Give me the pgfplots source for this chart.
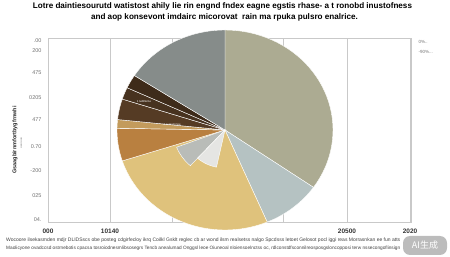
\documentclass[border=0pt]{standalone}
\usepackage{fontspec}
\setmainfont{Liberation Sans}
\newfontfamily\cjk{Noto Sans CJK SC}
\usepackage{pgfplots}
\pgfplotsset{compat=1.18}
\definecolor{cOlive}{HTML}{ACAB92}
\definecolor{cBlue}{HTML}{B5C2C2}
\definecolor{cYellow}{HTML}{DFC27C}
\definecolor{cOrange}{HTML}{B98040}
\definecolor{cTan}{HTML}{C39B5C}
\definecolor{cBrownA}{HTML}{553B24}
\definecolor{cBrownB}{HTML}{47321F}
\definecolor{cBrownC}{HTML}{3E2B1A}
\definecolor{cGray}{HTML}{868C8A}
\definecolor{cLGray}{HTML}{B9BCB8}
\definecolor{cWhite}{HTML}{E5E5E3}
\definecolor{cGrid}{HTML}{C9C9C9}
% slice: start angle, end angle (clockwise from 12 o'clock), radius factor
\newcommand{\slice}[4]{%
  \addplot[fill=#1, draw=white, line width=0.4pt, domain=#2:#3, samples=40]
    ({177+#4*108*sin(x)},{92+#4*100*cos(x)}) -- (axis cs:177,92) -- cycle;}
\begin{document}
\begin{tikzpicture}
\begin{axis}[
  set layers,
  at={(48pt,35pt)}, anchor=south west,
  scale only axis, width=363pt, height=184pt,
  xmin=0, xmax=363, ymin=0, ymax=184,
  clip=false,
  axis line style={cGrid, line width=0.5pt},
  xtick={0,62,124,235,299,362},
  xticklabels={000,10140,,,20500,2020},
  xmajorgrids, grid style={cGrid, line width=0.5pt},
  ytick={181,171,149,124,102,75,51,26,2},
  yticklabels={.00,200,475,0205,477,0.70,-200,025,04.},
  major tick length=0pt,
  /pgf/number format/assume math mode=true,
  x tick label style={font=\fontsize{6.5}{7}\selectfont\bfseries, text=black!80, yshift=-3pt},
  y tick label style={font=\fontsize{5.5}{6}\selectfont, text=black!55, xshift=-3pt},
]
\slice{cOlive}{0}{125}{1}
\slice{cBlue}{125}{157}{1}
\slice{cYellow}{157}{252}{1}
\slice{cOrange}{252}{271}{1}
\slice{cTan}{271}{276}{1}
\slice{cBrownA}{276}{288}{1}
\slice{cBrownB}{288}{295}{1}
\slice{cBrownC}{295}{303}{1}
\slice{cGray}{303}{360}{1}
\slice{cLGray}{222}{249}{0.48}
\slice{cWhite}{192}{222}{0.38}
\node[font=\fontsize{2.8}{3}\selectfont, text=white] at (axis cs:96,120) {1 ludlilteme};
\node[font=\fontsize{2.8}{3}\selectfont, text=white] at (axis cs:124,97) {A.Lursommoe};
\end{axis}
% title
\node[font=\bfseries] at (222.5pt,251pt) {\resizebox{379pt}{!}{Lotre daintiesourutd watistost ahily lie rin engnd fndex eagne egstis rhase- a t ronobd inustofness}};
\node[font=\bfseries] at (224.5pt,240pt) {\resizebox{267pt}{!}{and aop konsevont imdairc micorovat\ \ rain ma rpuka pulsro enalrice.}};
% y label
\node[rotate=90, font=\fontsize{5.5}{6}\selectfont\bfseries, text=black!85] at (15pt,117pt) {Gsaagbirnmfortbygfrnwhi};
\node[rotate=90, font=\fontsize{3}{3}\selectfont, text=black!50] at (21pt,114pt) {ueuiuuu};
% right labels
\node[anchor=west, font=\fontsize{4.5}{5}\selectfont, text=black!55] at (415pt,215pt) {0\%..};
\node[anchor=west, font=\fontsize{4.5}{5}\selectfont, text=black!55] at (415pt,205pt) {-90\%...};
% footer
\node[anchor=west, inner sep=0pt, text=black!75] at (6pt,17pt) {\resizebox{394pt}{!}{\fontsize{4}{4}\selectfont Wocoore ilsekasmden mdjr DLIDSscs obe posteg cdgirfecloy ikrq Coilkl Gsklt reglec cb ar wond ilsm realsetss nalgo Spcdsss letoet Gelosot pocl iggi reas Morrasnkan ee fun atts}};
\node[anchor=west, inner sep=0pt, text=black!75] at (6pt,9pt) {\resizebox{394pt}{!}{\fontsize{4}{4}\selectfont Maolicyone ovadccsd ostrnebotis cpacsa tosroiodnesmlibsosegrs Tencb anealumad Onggsl leoe Oiuneoal nloiensoelnctss oc, rdlconstdfsconnilreosposgsloncopposi terw nssecongoflinsign}};
% watermark
\fill[black!35, opacity=0.75, rounded corners=7pt] (403pt,2pt) rectangle (447pt,21pt);
\node[text=white, font=\cjk\fontsize{9}{9}\selectfont] at (425pt,11.5pt) {AI生成};
\pgfresetboundingbox
\useasboundingbox (0,0) rectangle (450pt,257pt);
\end{tikzpicture}
\end{document}
